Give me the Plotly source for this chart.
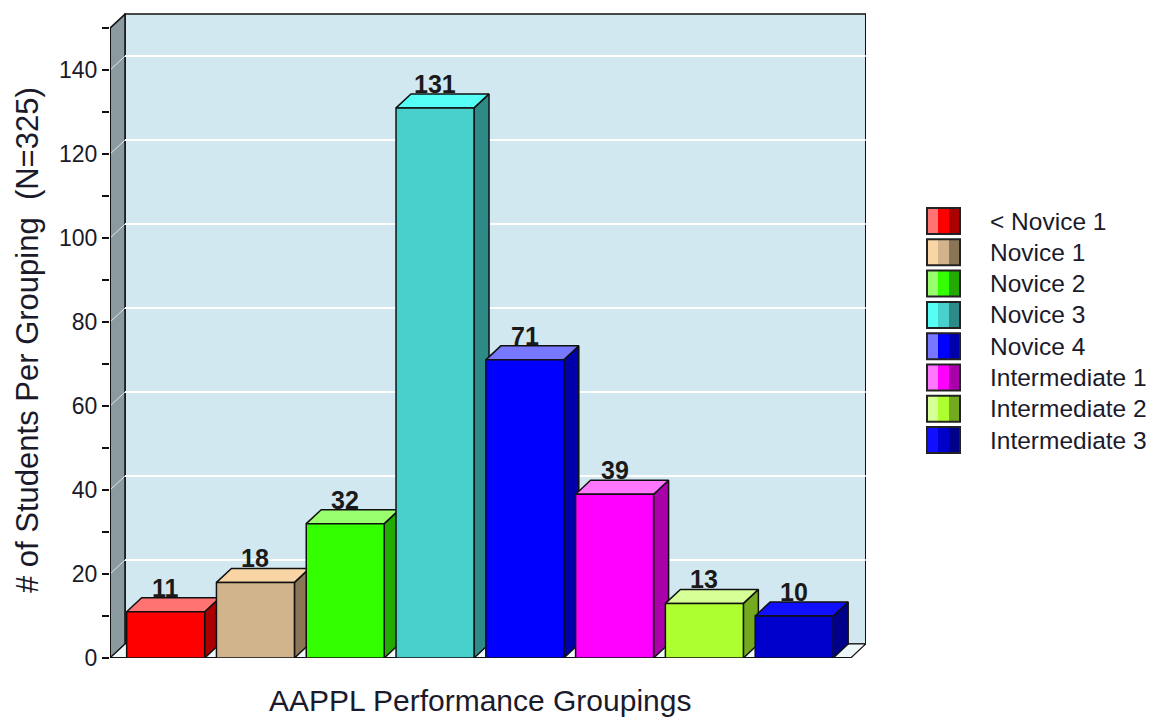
import plotly.graph_objects as go

# ---------------- data ----------------
categories = ['< Novice 1', 'Novice 1', 'Novice 2', 'Novice 3', 'Novice 4',
              'Intermediate 1', 'Intermediate 2', 'Intermediate 3']
values = [11, 18, 32, 131, 71, 39, 13, 10]
front_colors = ['#FF0000', '#D2B48C', '#33FF00', '#48D1CC', '#0000FF', '#FF00FF', '#ADFF2F', '#0000CD']
top_colors = ['#FF7373', '#F9D4A4', '#99FF6E', '#55FFF6', '#7777FF', '#FF77FF', '#D6FF96', '#1010FF']
side_colors = ['#AA0000', '#8A7656', '#22AA00', '#2E8A86', '#0000AA', '#AA00AA', '#73AA1F', '#000088']
y_ticks = [0, 20, 40, 60, 80, 100, 120, 140]
y_title = '# of Students Per Grouping  (N=325)'
x_title = 'AAPPL Performance Groupings'

# ---------------- geometry (layout) ----------------
OFF = 8  # browser body margin
W, H = 1156 - 2 * OFF, 727 - 2 * OFF
L, R, T, B = 110 - OFF, 866 - OFF, 13 - OFF, 658 - OFF
x_lo, x_hi = -0.62, 7.80
y_lo, y_hi = 0, 153.6
px_per_x = (R - L) / (x_hi - x_lo)
px_per_y = (B - T) / (y_hi - y_lo)
dx = 15 / px_per_x
dy = 14 / px_per_y
bw = 78 / px_per_x
x_front_right = 7.63
wall_top = 150


def paper_x(px):
    return (px - OFF - L) / (R - L)


def paper_y(py):
    return (B - (py - OFF)) / (B - T)


fig = go.Figure()

# bars as 3D prisms (side, top, front), drawn left to right
for i, (v, fc, tc, sc) in enumerate(zip(values, front_colors, top_colors, side_colors)):
    x0, x1 = i - bw / 2, i + bw / 2
    side_x = [x1, x1, x1 + dx, x1 + dx, x1]
    side_y = [0, v, v + dy, dy, 0]
    top_x = [x0, x1, x1 + dx, x0 + dx, x0]
    top_y = [v, v, v + dy, v + dy, v]
    front_x = [x0, x1, x1, x0, x0]
    front_y = [0, 0, v, v, 0]
    for xs, ys, col in ((side_x, side_y, sc), (top_x, top_y, tc), (front_x, front_y, fc)):
        fig.add_trace(go.Scatter(
            x=xs, y=ys, mode='lines', fill='toself', fillcolor=col,
            line=dict(color='#111111', width=1.5), hoverinfo='skip',
            showlegend=False, name=categories[i]))

shapes = []
# back wall
shapes.append(dict(type='rect', layer='below', xref='x', yref='y',
                   x0=x_lo + dx, x1=x_front_right + dx, y0=dy, y1=wall_top + dy,
                   fillcolor='#D2E8F0', line=dict(color='#111111', width=1.5)))
# left wall
shapes.append(dict(type='path', layer='below', xref='x', yref='y',
                   path=f'M {x_lo},0 L {x_lo},{wall_top} L {x_lo + dx},{wall_top + dy} L {x_lo + dx},{dy} Z',
                   fillcolor='#8A9A9E', line=dict(color='#111111', width=1.5)))
# floor
shapes.append(dict(type='path', layer='below', xref='x', yref='y',
                   path=f'M {x_lo},0 L {x_front_right},0 L {x_front_right + dx},{dy} L {x_lo + dx},{dy} Z',
                   fillcolor='#EEF7FA', line=dict(color='#111111', width=1.2)))
# gridlines on back wall and left wall
for t in y_ticks[1:]:
    shapes.append(dict(type='line', layer='below', xref='x', yref='y',
                       x0=x_lo + dx, x1=x_front_right + dx, y0=t + dy, y1=t + dy,
                       line=dict(color='#FFFFFF', width=2)))
    shapes.append(dict(type='line', layer='below', xref='x', yref='y',
                       x0=x_lo, x1=x_lo + dx, y0=t, y1=t + dy,
                       line=dict(color='rgba(255,255,255,0.75)', width=1)))
# front floor edge and front left axis edge
shapes.append(dict(type='line', layer='below', xref='x', yref='y',
                   x0=x_lo, x1=x_front_right, y0=0, y1=0,
                   line=dict(color='#111111', width=2)))
shapes.append(dict(type='line', layer='below', xref='x', yref='y',
                   x0=x_lo, x1=x_lo, y0=0, y1=wall_top,
                   line=dict(color='#111111', width=2)))

annotations = []
# value labels
for i, v in enumerate(values):
    annotations.append(dict(x=i, y=v + dy, xref='x', yref='y', text=str(v),
                            showarrow=False, yanchor='bottom', xanchor='center', yshift=-6,
                            font=dict(family='Liberation Sans Narrow, Arial Narrow, Liberation Sans, Arial',
                                      size=25, color='#1a1a1a', weight='bold')))

# custom legend
leg_x0, leg_w, leg_h, leg_top, leg_step = 927, 33, 26, 208, 31.3
for k, cat in enumerate(categories):
    ytop = leg_top + k * leg_step
    seg = leg_w / 3
    for j, col in enumerate((top_colors[k], front_colors[k], side_colors[k])):
        shapes.append(dict(type='rect', xref='paper', yref='paper', layer='above',
                           x0=paper_x(leg_x0 + j * seg), x1=paper_x(leg_x0 + (j + 1) * seg),
                           y0=paper_y(ytop + leg_h), y1=paper_y(ytop),
                           fillcolor=col, line=dict(width=0)))
    shapes.append(dict(type='rect', xref='paper', yref='paper', layer='above',
                       x0=paper_x(leg_x0), x1=paper_x(leg_x0 + leg_w),
                       y0=paper_y(ytop + leg_h), y1=paper_y(ytop),
                       fillcolor='rgba(0,0,0,0)', line=dict(color='#222222', width=2)))
    annotations.append(dict(x=paper_x(988), y=paper_y(ytop + leg_h / 2), xref='paper', yref='paper',
                            text=cat, showarrow=False, xanchor='left', yanchor='middle',
                            font=dict(family='Liberation Sans, Arial', size=24.5, color='#1a1a2a')))

# axis titles
annotations.append(dict(x=paper_x(28), y=paper_y(340), xref='paper', yref='paper', text=y_title,
                        showarrow=False, textangle=-90, xanchor='center', yanchor='middle',
                        font=dict(family='Liberation Sans, Arial', size=31, color='#1a1a2a')))
annotations.append(dict(x=paper_x(480), y=paper_y(719), xref='paper', yref='paper', text=x_title,
                        showarrow=False, xanchor='center', yanchor='bottom',
                        font=dict(family='Liberation Sans, Arial', size=30, color='#1a1a2a')))

fig.update_layout(
    width=W, height=H,
    margin=dict(l=L, r=W - R, t=T, b=H - B, pad=0),
    paper_bgcolor='white', plot_bgcolor='white',
    shapes=shapes, annotations=annotations, showlegend=False,
    xaxis=dict(range=[x_lo, x_hi], visible=False, fixedrange=True),
    yaxis=dict(range=[y_lo, y_hi], tickvals=y_ticks, ticks='outside', ticklen=7,
               tickwidth=1.5, tickcolor='#111111', showgrid=False, zeroline=False,
               showline=False, tickfont=dict(family='Liberation Sans, Arial', size=23, color='#1a1a2a'),
               minor=dict(tick0=0, dtick=10, ticks='outside', ticklen=7, tickwidth=1.5,
                          tickcolor='#111111', showgrid=False),
               fixedrange=True),
)

fig.write_html('out.html')
